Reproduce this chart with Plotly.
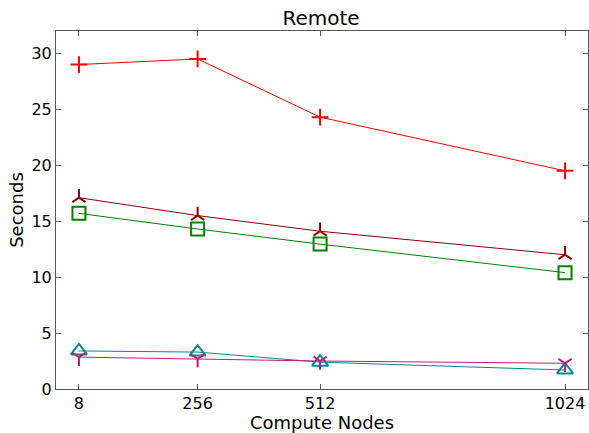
import plotly.graph_objects as go

# Compute node counts on the x axis
nodes = [8, 256, 512, 1024]

# Elapsed seconds per configuration
series_plus = [29.0, 29.5, 24.3, 19.5]
series_triup = [17.1, 15.5, 14.1, 12.0]
series_square = [15.7, 14.3, 12.95, 10.4]
series_triangle = [3.4, 3.3, 2.4, 1.7]
series_tridown = [2.85, 2.7, 2.5, 2.3]

styles = [
    (series_plus, "#ff0000", "cross-thin-open", 12),
    (series_triup, "#8b0000", "y-up-open", 11),
    (series_square, "#008000", "square-open", 13),
    (series_triangle, "#008b8b", "triangle-up-open", 14),
    (series_tridown, "#c71585", "y-down-open", 11),
]

fig = go.Figure()
for values, color, symbol, size in styles:
    fig.add_trace(go.Scatter(
        x=nodes, y=values, mode="lines+markers",
        line=dict(color=color, width=1),
        marker=dict(symbol=symbol, size=size, color=color,
                    line=dict(color=color, width=2)),
        showlegend=False,
    ))

axis_common = dict(
    showline=True, linecolor="#555555", linewidth=1, mirror="allticks",
    ticks="inside", ticklen=5, tickcolor="#555555", showgrid=False,
    zeroline=False, tickfont=dict(size=16, color="black"),
)

fig.update_layout(
    width=589, height=433,
    margin=dict(l=56, r=1, t=31, b=44),
    paper_bgcolor="white", plot_bgcolor="white",
    font=dict(family="DejaVu Sans", color="black"),
    title=dict(text="Remote", x=0.545, xanchor="center", y=0.958,
               yanchor="middle", font=dict(size=20)),
    xaxis=dict(range=[-40, 1072], tickvals=nodes,
               ticktext=[str(n) for n in nodes],
               title=dict(text="Compute Nodes", font=dict(size=18), standoff=3),
               **axis_common),
    yaxis=dict(range=[0, 32], tickvals=[0, 5, 10, 15, 20, 25, 30],
               title=dict(text="Seconds", font=dict(size=18), standoff=3),
               **axis_common),
)

fig.write_html("out.html")
